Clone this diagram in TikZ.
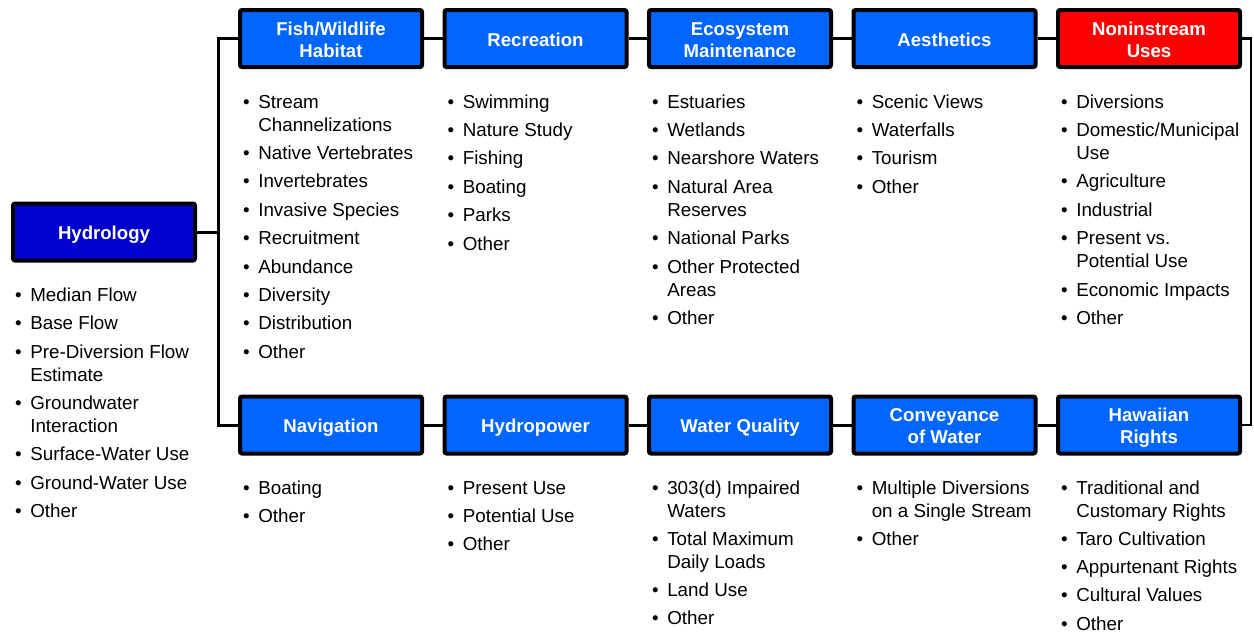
\documentclass[tikz,border=0pt]{standalone}
\usepackage{fontspec}
\setmainfont{Liberation Sans}
\definecolor{boxblue}{HTML}{0066FF}
\definecolor{hydblue}{HTML}{0000CC}
\definecolor{nonred}{HTML}{FF0000}
\newcommand{\mylist}[1]{\begin{tabular}[t]{@{}l@{\hspace{8.5pt}}l@{}}#1\end{tabular}}
\newcommand{\twol}[2]{\begin{tabular}[b]{@{}c@{}}#1\\#2\end{tabular}}
\newcommand{\bu}{\textbullet}
\tikzset{
  hbox/.style={draw=black, line width=4pt, rounded corners=2pt, fill=boxblue,
    minimum width=182pt, minimum height=57pt, text=white, inner sep=0pt,
    font=\fontsize{18.6}{22}\selectfont\bfseries},
  oneline/.style={hbox, text height=15.3pt, text depth=0pt},
  twoline/.style={hbox, text height=37.3pt, text depth=0pt},
  conn/.style={line width=3pt},
  thinconn/.style={line width=2.2pt},
  listtext/.style={anchor=base west, inner sep=0pt, font=\fontsize{18.8}{23}\selectfont}
}
\begin{document}
\begin{tikzpicture}[x=1pt,y=-1pt]
\useasboundingbox (0,0) rectangle (1254,633);
% boxes
\node[oneline, fill=hydblue] (hyd) at (104,232) {Hydrology};
\node[twoline] (fish) at (331,38.5) {\twol{Fish/Wildlife}{Habitat}};
\node[oneline] (rec) at (535.5,38.5) {Recreation};
\node[twoline] (eco) at (740,38.5) {\twol{Ecosystem}{Maintenance}};
\node[oneline] (aes) at (944.5,38.5) {Aesthetics};
\node[twoline, fill=nonred] (non) at (1149,38.5) {\twol{Noninstream}{Uses}};
\node[oneline] (nav) at (331,425) {Navigation};
\node[oneline] (hyp) at (535.5,425) {Hydropower};
\node[oneline] (wq) at (740,425) {Water Quality};
\node[twoline] (conv) at (944.5,425) {\twol{Conveyance}{of Water}};
\node[twoline] (haw) at (1149,425) {\twol{Hawaiian}{Rights}};
% junctions
\coordinate (jl) at (218,232);
\coordinate (jt) at (218,38.5);
\coordinate (jb) at (218,425);
\coordinate (rt) at (1251,38.5);
\coordinate (rb) at (1251,425);
% connectors
\draw[conn] (hyd.east) -- (jl);
\draw[conn] (fish.west) -- (jt) -- (jb) -- (nav.west);
\draw[conn] (fish) -- (rec);
\draw[conn] (rec) -- (eco);
\draw[conn] (eco) -- (aes);
\draw[conn] (aes) -- (non);
\draw[conn] (nav) -- (hyp);
\draw[conn] (hyp) -- (wq);
\draw[conn] (wq) -- (conv);
\draw[conn] (conv) -- (haw);
\draw[thinconn] (non.east) -- (rt) -- (rb) -- (haw.east);
% lists
\node[listtext] (lhyd) at (15,301.2) {\mylist{%
\bu & Median Flow\\[5.4pt]
\bu & Base Flow\\[5.4pt]
\bu & Pre-Diversion Flow\\ & Estimate\\[5.4pt]
\bu & Groundwater\\ & Interaction\\[5.4pt]
\bu & Surface-Water Use\\[5.4pt]
\bu & Ground-Water Use\\[5.4pt]
\bu & Other}};
\node[listtext] (lfish) at (243,108) {\mylist{%
\bu & Stream\\ & Channelizations\\[5.4pt]
\bu & Native Vertebrates\\[5.4pt]
\bu & Invertebrates\\[5.4pt]
\bu & Invasive Species\\[5.4pt]
\bu & Recruitment\\[5.4pt]
\bu & Abundance\\[5.4pt]
\bu & Diversity\\[5.4pt]
\bu & Distribution\\[5.4pt]
\bu & Other}};
\node[listtext] (lrec) at (447.5,108) {\mylist{%
\bu & Swimming\\[5.4pt]
\bu & Nature Study\\[5.4pt]
\bu & Fishing\\[5.4pt]
\bu & Boating\\[5.4pt]
\bu & Parks\\[5.4pt]
\bu & Other}};
\node[listtext] (leco) at (652,108) {\mylist{%
\bu & Estuaries\\[5.4pt]
\bu & Wetlands\\[5.4pt]
\bu & Nearshore Waters\\[5.4pt]
\bu & Natural Area\\ & Reserves\\[5.4pt]
\bu & National Parks\\[5.4pt]
\bu & Other Protected\\ & Areas\\[5.4pt]
\bu & Other}};
\node[listtext] (laes) at (856.5,108) {\mylist{%
\bu & Scenic Views\\[5.4pt]
\bu & Waterfalls\\[5.4pt]
\bu & Tourism\\[5.4pt]
\bu & Other}};
\node[listtext] (lnon) at (1061,108) {\mylist{%
\bu & Diversions\\[5.4pt]
\bu & Domestic/Municipal\\ & Use\\[5.4pt]
\bu & Agriculture\\[5.4pt]
\bu & Industrial\\[5.4pt]
\bu & Present vs.\\ & Potential Use\\[5.4pt]
\bu & Economic Impacts\\[5.4pt]
\bu & Other}};
\node[listtext] (lnav) at (243,494) {\mylist{%
\bu & Boating\\[5.3pt]
\bu & Other}};
\node[listtext] (lhyp) at (447.5,494) {\mylist{%
\bu & Present Use\\[5.3pt]
\bu & Potential Use\\[5.3pt]
\bu & Other}};
\node[listtext] (lwq) at (652,494) {\mylist{%
\bu & 303(d) Impaired\\ & Waters\\[5.3pt]
\bu & Total Maximum\\ & Daily Loads\\[5.3pt]
\bu & Land Use\\[5.3pt]
\bu & Other}};
\node[listtext] (lconv) at (856.5,494) {\mylist{%
\bu & Multiple Diversions\\ & on a Single Stream\\[5.3pt]
\bu & Other}};
\node[listtext] (lhaw) at (1061,494) {\mylist{%
\bu & Traditional and\\ & Customary Rights\\[5.3pt]
\bu & Taro Cultivation\\[5.3pt]
\bu & Appurtenant Rights\\[5.3pt]
\bu & Cultural Values\\[5.3pt]
\bu & Other}};
\end{tikzpicture}
\end{document}
